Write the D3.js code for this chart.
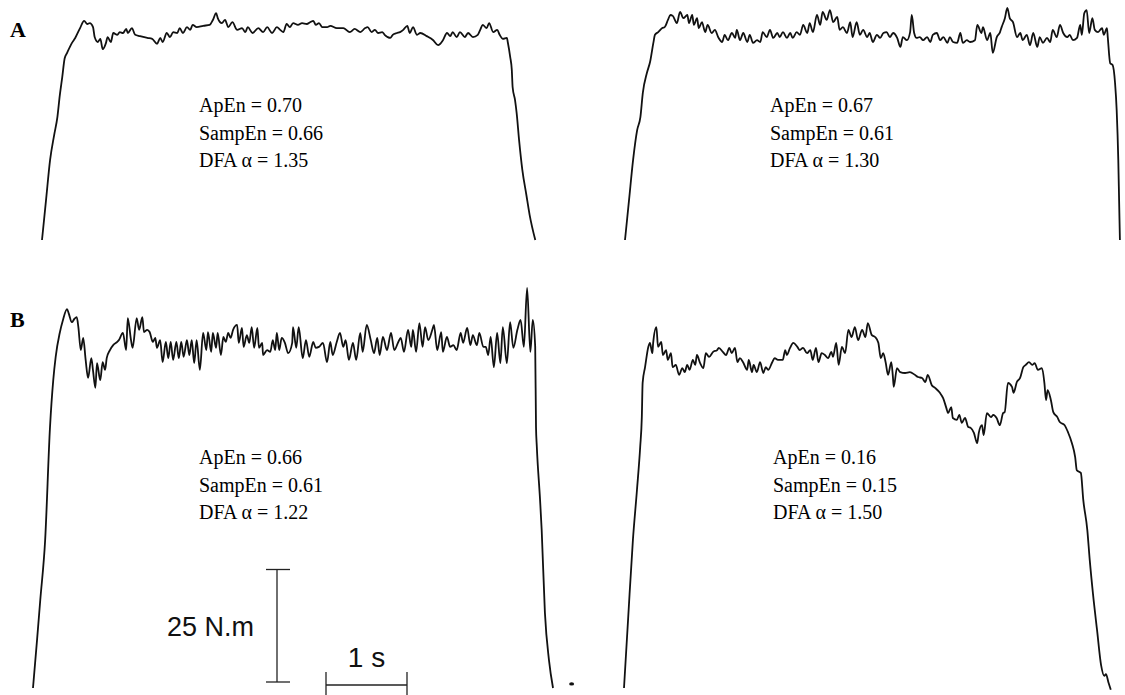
<!DOCTYPE html>
<html><head><meta charset="utf-8">
<script src="https://cdn.jsdelivr.net/npm/d3@7"></script>
<style>body{margin:0;background:#fff}svg{display:block}</style>
</head><body><svg id="c" width="1125" height="695"></svg>
<script>
// ---- DATA: torque traces, [time (s), torque (N.m)] ----
const traceA1 = [[0,0],[.05,8.9],[.10,17.8],[.15,23.3],[.19,27.3],[.22,32.2],[.25,36.2],[.28,40.4],[.31,41.6],[.37,43.8],[.41,44.9],[.47,47.1],[.52,48.7],[.56,48.0],[.59,48.2],[.63,47.3],[.65,45.1],[.69,44.0],[.72,44.7],[.75,42.4],[.79,43.8],[.81,45.1],[.85,44.0],[.88,46.0],[.93,45.6],[.96,46.2],[1.00,46.0],[1.04,46.9],[1.06,46.0],[1.11,47.1],[1.15,45.6],[1.21,45.3],[1.30,44.9],[1.36,44.7],[1.42,43.6],[1.46,44.9],[1.49,44.0],[1.54,46.0],[1.58,45.1],[1.62,46.2],[1.67,46.0],[1.70,47.1],[1.74,46.0],[1.79,47.3],[1.83,46.7],[1.86,47.8],[1.91,47.3],[1.99,47.6],[2.07,47.8],[2.11,48.9],[2.15,50.4],[2.17,49.3],[2.22,48.2],[2.26,48.9],[2.30,47.3],[2.35,48.4],[2.41,46.7],[2.47,47.1],[2.51,46.2],[2.54,47.3],[2.60,46.0],[2.67,47.1],[2.73,46.2],[2.78,47.3],[2.84,46.0],[2.90,47.3],[2.94,46.7],[2.98,46.2],[3.02,48.0],[3.06,47.3],[3.10,48.2],[3.16,47.8],[3.21,48.2],[3.27,48.0],[3.31,48.4],[3.35,48.7],[3.38,47.8],[3.42,48.2],[3.46,47.3],[3.52,47.3],[3.56,47.6],[3.64,47.1],[3.72,47.1],[3.80,46.2],[3.86,46.9],[3.93,46.2],[3.99,47.1],[4.02,47.3],[4.07,46.2],[4.11,46.7],[4.15,46.0],[4.20,46.2],[4.23,45.6],[4.30,44.9],[4.33,45.6],[4.38,46.0],[4.42,46.2],[4.46,46.7],[4.51,47.6],[4.54,46.0],[4.58,47.3],[4.63,45.6],[4.67,46.0],[4.75,45.3],[4.83,44.4],[4.89,43.3],[4.95,44.4],[5.00,46.0],[5.04,45.3],[5.07,46.2],[5.12,45.1],[5.16,46.2],[5.22,45.1],[5.26,46.0],[5.32,45.1],[5.38,45.6],[5.41,46.7],[5.44,47.8],[5.49,47.1],[5.52,48.2],[5.57,46.2],[5.62,46.7],[5.65,45.6],[5.69,44.7],[5.74,44.9],[5.75,44.0],[5.78,40.7],[5.80,37.8],[5.81,34.0],[5.84,31.1],[5.86,28.2],[5.89,22.2],[5.93,15.6],[5.98,10.0],[6.02,5.6],[6.09,0]];

const traceA2 = [[0,0],[.05,8.9],[.10,17.8],[.15,24.4],[.19,27.3],[.22,32.7],[.27,37.1],[.31,39.6],[.35,43.8],[.37,45.6],[.41,46.2],[.46,47.1],[.49,47.3],[.53,48.9],[.56,50.0],[.59,49.8],[.64,48.2],[.68,50.7],[.72,49.3],[.77,50.0],[.79,48.2],[.83,50.0],[.85,47.8],[.89,49.3],[.91,47.1],[.95,48.4],[.99,46.2],[1.02,47.8],[1.07,46.0],[1.11,46.7],[1.15,45.1],[1.20,44.0],[1.23,45.6],[1.27,44.4],[1.32,46.0],[1.36,44.9],[1.38,46.7],[1.42,44.4],[1.46,46.0],[1.51,44.0],[1.54,45.6],[1.58,43.8],[1.63,44.4],[1.67,44.0],[1.70,46.2],[1.75,45.1],[1.79,46.7],[1.83,44.9],[1.88,46.0],[1.91,45.1],[1.95,46.2],[2.00,44.9],[2.04,46.0],[2.07,44.9],[2.12,46.2],[2.16,45.6],[2.20,47.8],[2.25,46.0],[2.28,48.2],[2.32,46.2],[2.37,50.0],[2.41,47.8],[2.44,50.7],[2.49,48.9],[2.53,51.1],[2.57,48.4],[2.62,49.6],[2.65,46.7],[2.69,47.3],[2.74,46.0],[2.78,48.4],[2.81,45.1],[2.86,48.4],[2.90,45.6],[2.94,46.7],[2.99,45.1],[3.02,46.0],[3.06,44.0],[3.11,45.6],[3.15,44.9],[3.19,46.0],[3.23,46.2],[3.27,45.1],[3.31,46.0],[3.36,44.9],[3.40,42.9],[3.43,45.1],[3.48,44.4],[3.52,46.2],[3.54,50.0],[3.57,46.0],[3.60,44.9],[3.64,45.1],[3.68,44.4],[3.73,45.1],[3.77,44.0],[3.80,45.6],[3.85,46.0],[3.89,44.4],[3.93,45.1],[3.98,43.8],[4.01,45.1],[4.05,44.0],[4.10,43.8],[4.14,46.0],[4.17,43.8],[4.22,44.4],[4.26,44.0],[4.32,44.4],[4.35,47.8],[4.40,46.0],[4.42,47.3],[4.47,44.4],[4.51,46.0],[4.54,41.6],[4.59,45.1],[4.63,46.2],[4.65,47.3],[4.69,49.3],[4.72,51.6],[4.75,49.3],[4.79,48.4],[4.84,45.1],[4.88,46.0],[4.91,44.4],[4.96,45.6],[5.00,43.3],[5.04,46.0],[5.09,42.9],[5.12,45.1],[5.16,43.8],[5.21,44.9],[5.25,44.0],[5.28,46.7],[5.33,45.1],[5.37,47.8],[5.41,46.0],[5.46,45.1],[5.49,45.6],[5.53,44.4],[5.58,44.9],[5.62,47.8],[5.64,45.6],[5.67,50.4],[5.70,51.1],[5.73,46.0],[5.77,49.3],[5.80,46.7],[5.84,46.2],[5.89,47.1],[5.91,45.6],[5.95,47.1],[5.96,45.1],[5.99,39.3],[6.02,38.9],[6.05,34.9],[6.07,28.9],[6.09,17.8],[6.10,8.9],[6.11,0]];

const traceB1 = [[0,0],[.05,10.7],[.09,19.6],[.15,32.9],[.21,58.0],[.25,68.4],[.28,73.6],[.33,78.9],[.37,81.8],[.42,84.2],[.44,83.3],[.48,81.3],[.51,82.0],[.54,82.4],[.56,80.2],[.59,75.1],[.62,77.8],[.65,72.9],[.68,68.9],[.72,73.3],[.74,70.7],[.77,66.7],[.79,72.2],[.83,68.4],[.86,72.4],[.89,70.7],[.91,73.3],[.95,75.1],[.99,76.2],[1.04,76.9],[1.06,77.3],[1.11,78.9],[1.15,75.1],[1.17,82.2],[1.21,77.3],[1.23,75.6],[1.28,82.2],[1.31,79.6],[1.35,82.4],[1.37,79.1],[1.41,79.6],[1.44,79.1],[1.48,76.9],[1.51,77.8],[1.53,75.6],[1.57,77.3],[1.60,72.4],[1.64,76.9],[1.67,73.3],[1.70,76.9],[1.73,72.9],[1.77,76.9],[1.80,73.3],[1.83,76.9],[1.86,73.6],[1.90,77.3],[1.93,74.0],[1.96,77.3],[1.99,72.2],[2.02,77.3],[2.06,70.7],[2.10,78.9],[2.14,75.1],[2.16,79.1],[2.20,74.7],[2.22,78.9],[2.26,75.6],[2.28,78.9],[2.32,74.0],[2.35,78.0],[2.38,76.9],[2.41,78.9],[2.44,77.8],[2.47,79.6],[2.52,80.7],[2.54,76.7],[2.58,80.0],[2.60,75.8],[2.64,78.4],[2.67,76.7],[2.70,80.2],[2.73,75.6],[2.77,80.0],[2.79,75.6],[2.83,76.7],[2.84,74.0],[2.89,75.1],[2.93,74.7],[2.96,77.3],[2.99,75.1],[3.01,78.9],[3.04,75.1],[3.07,77.8],[3.11,76.7],[3.15,74.4],[3.20,76.7],[3.21,80.2],[3.25,75.6],[3.28,80.2],[3.33,73.3],[3.37,77.3],[3.41,73.6],[3.46,76.9],[3.49,75.6],[3.53,75.8],[3.58,76.7],[3.63,72.4],[3.67,76.9],[3.70,74.0],[3.75,76.9],[3.79,78.9],[3.83,75.8],[3.86,77.3],[3.90,72.9],[3.95,76.7],[3.99,72.9],[4.04,78.9],[4.07,74.7],[4.12,80.7],[4.17,77.3],[4.21,74.4],[4.25,77.8],[4.28,74.0],[4.32,78.0],[4.37,75.1],[4.42,78.9],[4.46,75.1],[4.51,76.9],[4.54,77.8],[4.58,74.7],[4.63,79.6],[4.67,75.8],[4.69,79.6],[4.73,74.7],[4.77,81.1],[4.81,75.8],[4.84,80.2],[4.88,77.3],[4.93,79.6],[4.95,80.7],[4.99,75.1],[5.04,79.1],[5.06,74.7],[5.11,78.0],[5.15,75.8],[5.19,76.2],[5.23,75.1],[5.28,78.9],[5.31,76.7],[5.36,80.0],[5.40,76.2],[5.43,78.4],[5.48,76.2],[5.51,78.9],[5.56,75.8],[5.59,75.8],[5.62,74.0],[5.65,78.0],[5.69,71.3],[5.73,78.9],[5.77,72.2],[5.80,80.2],[5.85,72.2],[5.89,81.3],[5.93,75.6],[5.98,79.6],[6.02,81.8],[6.06,75.8],[6.10,88.9],[6.14,74.7],[6.17,81.8],[6.20,75.8],[6.21,58.0],[6.22,53.6],[6.26,41.8],[6.28,35.1],[6.32,16.7],[6.37,6.2],[6.42,0]];

const traceB2 = [[0,0],[.05,15.1],[.11,32.9],[.16,44.0],[.20,53.6],[.22,60.2],[.23,67.8],[.26,71.3],[.30,75.8],[.32,76.7],[.35,74.4],[.36,76.7],[.40,80.2],[.42,75.8],[.46,76.9],[.48,74.0],[.52,75.1],[.54,72.9],[.58,74.4],[.60,71.3],[.64,71.8],[.68,69.6],[.72,71.1],[.75,70.2],[.78,71.8],[.81,70.7],[.85,72.9],[.88,71.8],[.90,74.0],[.94,72.2],[.98,71.1],[1.01,74.4],[1.05,73.6],[1.10,74.7],[1.15,75.1],[1.17,75.6],[1.22,74.7],[1.26,74.0],[1.30,75.6],[1.33,74.4],[1.37,75.6],[1.40,72.4],[1.43,73.3],[1.47,72.4],[1.52,70.7],[1.54,72.9],[1.58,70.2],[1.60,71.8],[1.64,70.2],[1.68,72.4],[1.72,70.0],[1.75,71.3],[1.78,70.7],[1.83,72.4],[1.86,73.3],[1.90,72.9],[1.96,72.9],[1.99,75.1],[2.01,74.0],[2.05,75.6],[2.09,76.7],[2.14,75.8],[2.17,75.1],[2.21,75.6],[2.26,74.4],[2.30,75.1],[2.33,72.9],[2.37,75.6],[2.40,72.4],[2.44,74.4],[2.48,74.0],[2.52,73.3],[2.56,74.7],[2.58,73.6],[2.62,76.7],[2.65,71.8],[2.69,75.8],[2.73,74.4],[2.77,79.6],[2.81,78.0],[2.85,80.2],[2.89,77.3],[2.94,79.6],[2.98,78.0],[3.01,81.1],[3.06,78.4],[3.10,78.0],[3.14,76.7],[3.17,73.3],[3.20,74.4],[3.23,72.4],[3.26,69.6],[3.30,72.4],[3.32,69.1],[3.33,66.9],[3.37,71.1],[3.41,70.2],[3.47,70.0],[3.53,70.2],[3.59,69.6],[3.63,69.1],[3.68,68.9],[3.72,68.0],[3.75,69.6],[3.80,67.3],[3.84,66.7],[3.90,65.6],[3.94,64.4],[3.98,62.2],[4.00,61.1],[4.04,62.4],[4.06,60.0],[4.11,59.6],[4.14,60.7],[4.17,58.9],[4.21,60.0],[4.25,58.0],[4.28,57.8],[4.32,56.7],[4.36,54.4],[4.38,56.7],[4.42,58.4],[4.44,56.2],[4.48,61.1],[4.53,60.2],[4.56,60.7],[4.60,60.0],[4.64,58.4],[4.68,61.1],[4.70,61.3],[4.74,67.8],[4.79,66.9],[4.81,65.6],[4.85,68.0],[4.89,68.9],[4.93,71.3],[4.96,71.8],[5.00,72.4],[5.04,71.8],[5.07,72.2],[5.11,70.7],[5.16,71.1],[5.19,67.8],[5.21,64.0],[5.23,66.2],[5.27,64.0],[5.30,61.3],[5.35,60.2],[5.38,59.1],[5.44,58.4],[5.48,56.9],[5.53,54.4],[5.57,51.3],[5.59,48.4],[5.64,47.8],[5.67,41.8],[5.72,35.1],[5.75,28.4],[5.79,20.9],[5.84,12.9],[5.89,5.1],[5.93,2.7],[5.95,3.1],[5.98,1.3],[6.01,-0.4]];

// small ink spot next to the end of trace B1: [time (s), torque (N.m)]
const inkSpotB1 = [6.65, 0.9];

// entropy / fractal statistics per trace
const statNames = ["ApEn", "SampEn", "DFA \u03b1"];
const statsA1 = [0.70, 0.66, 1.35];
const statsA2 = [0.67, 0.61, 1.30];
const statsB1 = [0.66, 0.61, 1.22];
const statsB2 = [0.16, 0.15, 1.50];
const rowLetters = ["A", "B"];
const barTorque = 25;   // N.m
const barTime = 1;      // s

// ---- LAYOUT ----
const PX_PER_S = 81, PX_PER_NM = 4.5;
const svg = d3.select("#c");
const fmt = d3.format(".2f");
const SERIF = "'Liberation Serif','Times New Roman',serif";
const SANS = "'Liberation Sans',Arial,sans-serif";

const panels = [
  {trace: traceA1, stats: statsA1, x0: 42,  yb: 240, tx: 199, ty: 112},
  {trace: traceA2, stats: statsA2, x0: 625, yb: 240, tx: 770, ty: 112},
  {trace: traceB1, stats: statsB1, x0: 33,  yb: 688, tx: 199, ty: 464},
  {trace: traceB2, stats: statsB2, x0: 624, yb: 688, tx: 773, ty: 464}
];

panels.forEach(p => {
  const x = d3.scaleLinear().domain([0, 7]).range([p.x0, p.x0 + 7 * PX_PER_S]);
  const y = d3.scaleLinear().domain([0, 100]).range([p.yb, p.yb - 100 * PX_PER_NM]);
  p.x = x; p.y = y;
  const line = d3.line().x(d => x(d[0])).y(d => y(d[1])).curve(d3.curveMonotoneX);
  svg.append("path").datum(p.trace)
    .attr("d", line)
    .attr("fill", "none")
    .attr("stroke", "#111")
    .attr("stroke-width", 1.8)
    .attr("stroke-linejoin", "round");

  const g = svg.append("g").attr("font-family", SERIF).attr("font-size", 20).attr("fill", "#000");
  statNames.forEach((n, k) => {
    g.append("text").attr("x", p.tx).attr("y", p.ty + k * 27.5)
      .text(n + " = " + fmt(p.stats[k]));
  });
});

// ink spot
svg.append("ellipse")
  .attr("cx", panels[2].x(inkSpotB1[0])).attr("cy", panels[2].y(inkSpotB1[1]))
  .attr("rx", 2.5).attr("ry", 1.6).attr("fill", "#111");

// row letters
svg.selectAll("text.row").data(rowLetters).enter().append("text")
  .attr("class", "row")
  .attr("x", 10)
  .attr("y", (d, i) => i === 0 ? 37 : 327)
  .attr("font-family", SERIF)
  .attr("font-weight", "bold").attr("font-size", 22)
  .text(d => d);

// scale bars
const barY = d3.scaleLinear().domain([0, barTorque]).range([682, 682 - barTorque * PX_PER_NM]);
const barX = d3.scaleLinear().domain([0, barTime]).range([326, 326 + barTime * PX_PER_S]);
const sb = svg.append("g").attr("stroke", "#222").attr("stroke-width", 1.3).attr("fill", "none");
const vx = 277;
sb.append("line").attr("x1", vx).attr("x2", vx).attr("y1", barY(0)).attr("y2", barY(barTorque));
sb.append("line").attr("x1", vx - 11).attr("x2", vx + 13).attr("y1", barY(0)).attr("y2", barY(0));
sb.append("line").attr("x1", vx - 11).attr("x2", vx + 13).attr("y1", barY(barTorque)).attr("y2", barY(barTorque));
const hy = 685;
sb.append("line").attr("x1", barX(0)).attr("x2", barX(barTime)).attr("y1", hy).attr("y2", hy);
sb.append("line").attr("x1", barX(0)).attr("x2", barX(0)).attr("y1", hy - 13).attr("y2", 695);
sb.append("line").attr("x1", barX(barTime)).attr("x2", barX(barTime)).attr("y1", hy - 13).attr("y2", 695);

svg.append("text").attr("x", 254).attr("y", 636)
  .attr("text-anchor", "end")
  .attr("font-family", SANS).attr("font-size", 27)
  .attr("fill", "#111")
  .text(barTorque + " N.m");
svg.append("text").attr("x", (barX(0) + barX(barTime)) / 2).attr("y", 667)
  .attr("text-anchor", "middle")
  .attr("font-family", SANS).attr("font-size", 28)
  .attr("fill", "#111")
  .text(barTime + " s");
</script></body></html>
